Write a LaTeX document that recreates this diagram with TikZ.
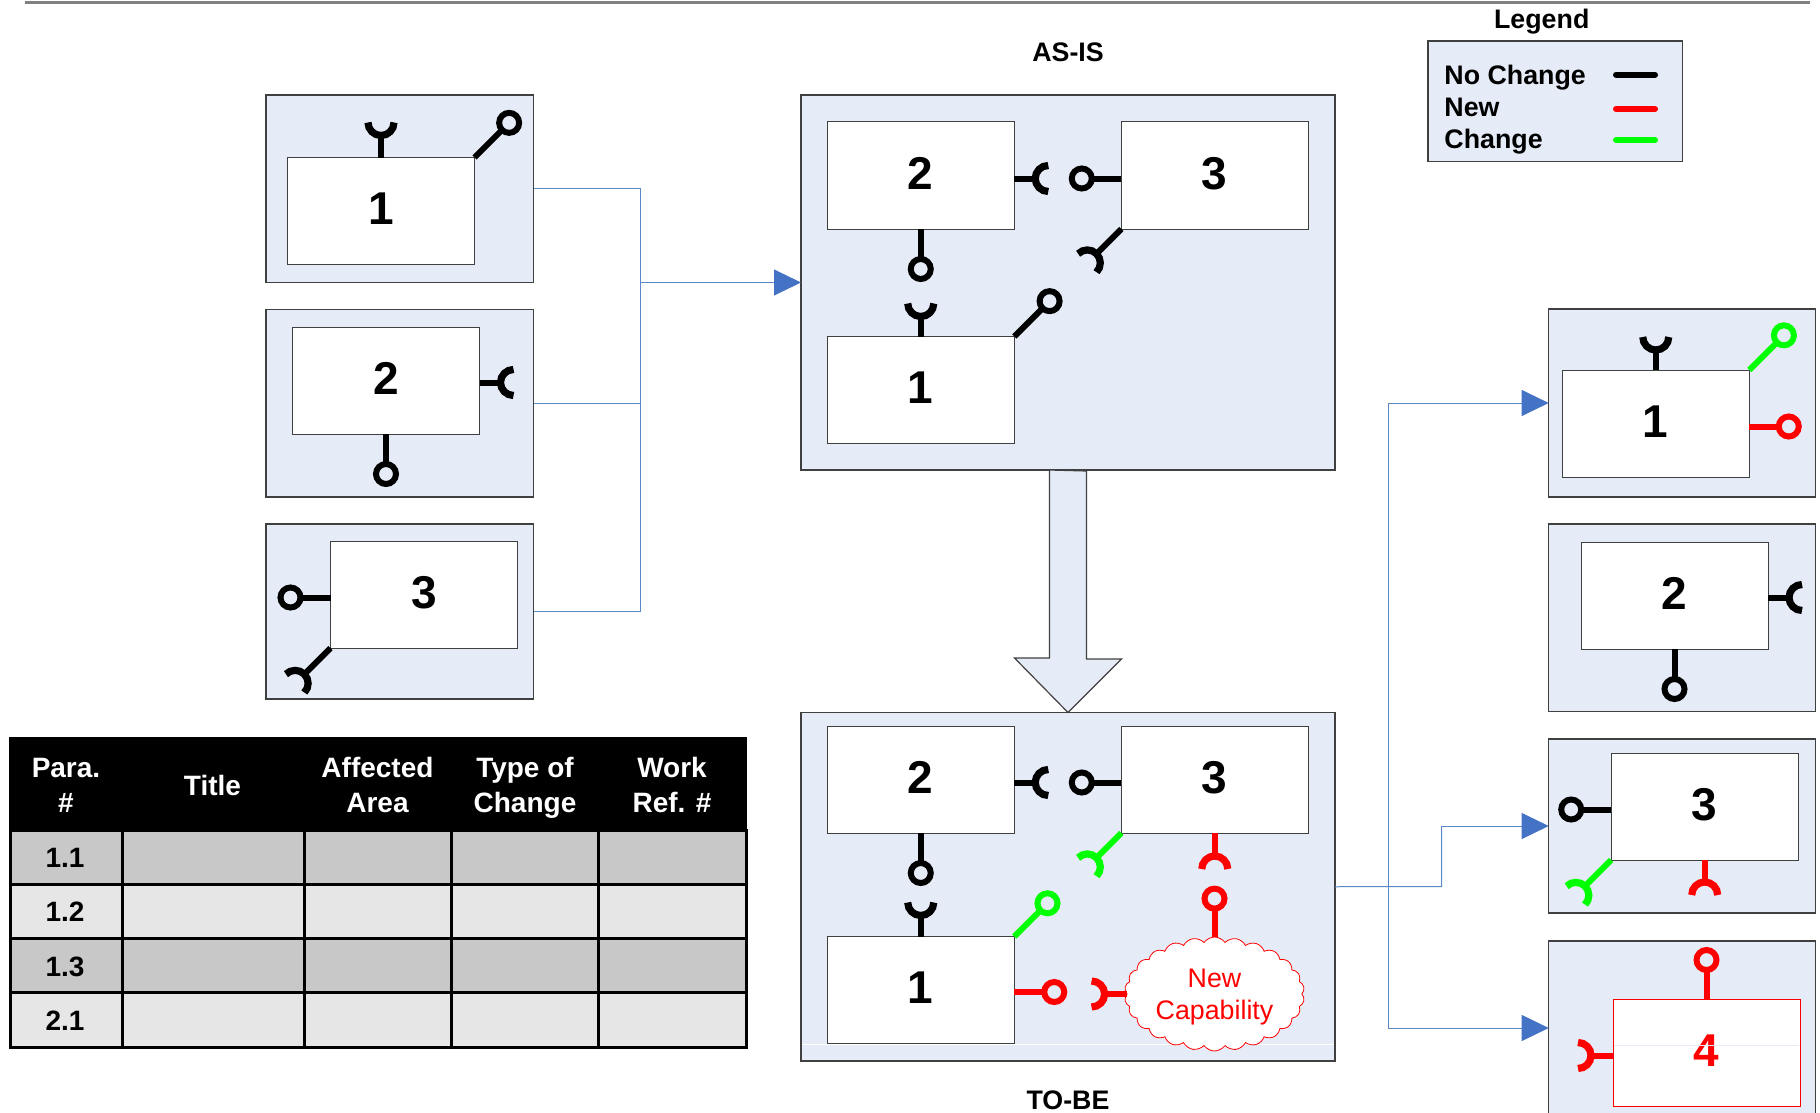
\documentclass[tikz,border=0pt]{standalone}
\usepackage{fontspec}
\setmainfont{Liberation Sans}
\usepackage{tikz}
\usetikzlibrary{calc,fit,arrows.meta,shapes.symbols}
\definecolor{panelblue}{HTML}{E6ECF7}
\definecolor{linkblue}{HTML}{5B87C9}
\definecolor{tipblue}{HTML}{4472C4}
\definecolor{edgegrey}{HTML}{404040}
\definecolor{pingreen}{HTML}{00FF00}
\definecolor{pinred}{HTML}{FF0000}
\definecolor{rowdark}{HTML}{C8C8C8}
\definecolor{rowlight}{HTML}{E6E6E6}
\tikzset{
	panelbox/.style={draw=edgegrey, line width=0.6pt, fill=panelblue, inner sep=0pt, outer sep=0pt},
	blockbox/.style={draw=edgegrey, line width=0.5pt, fill=white, inner sep=0pt, outer sep=0pt, minimum width=93.5pt, minimum height=53.5pt, text height=16.5pt, text depth=3pt, font=\fontsize{23}{26}\selectfont\bfseries},
	pinstem/.style={line width=3pt},
	linkline/.style={draw=linkblue, line width=0.5pt},
	linktip/.style={linkline, -{Triangle[length=13.5pt,width=13pt,fill=tipblue,color=tipblue]}},
	caption/.style={font=\fontsize{13.4}{15.5}\selectfont\bfseries, inner sep=0pt},
	keyline/.style={line width=3pt, line cap=round},
	headtext/.style={font=\fontsize{14}{17.5}\selectfont\bfseries, text=white, align=center, inner sep=0pt},
	rowtext/.style={font=\fontsize{14}{17}\selectfont\bfseries, inner sep=0pt},
	gridline/.style={line width=1.5pt, draw=black}
}
\def\ballpin[#1](#2)(#3:#4){\draw[pinstem,#1] (#2) -- ($(#2)+(#3:#4-10)$); \draw[pinstem,#1] ($(#2)+(#3:#4)$) circle (10);}
\def\cuppin[#1](#2)(#3:#4){\draw[pinstem,#1] (#2) -- ($(#2)+(#3:#4-13)$); \draw[pinstem,line width=3.6pt,#1] ($(#2)+(#3:#4)+(#3+90:13)$) arc (#3+90:#3+270:13);}

\begin{document}
\begin{tikzpicture}[x=0.5pt,y=-0.5pt]
	\useasboundingbox (0,0) rectangle (1820,1113);
	%%%%% TOP RULE %%%%%
	
	\draw[line width=1.5pt, color=black!50] (25, 3) -- (1810, 3);
	
	%%%%% PANELS %%%%%
	
	\node[panelbox, fit={(266,95) (533.5,282.5)}] (leftA) {};
	\node[panelbox, fit={(266,309.5) (533.5,497)}] (leftB) {};
	\node[panelbox, fit={(266,524) (533.5,699)}] (leftC) {};
	\node[panelbox, fit={(801,95) (1335,470)}] (asis) {};
	\node[panelbox, fit={(801,712.5) (1335,1061)}] (tobe) {};
	\node[panelbox, fit={(1548.7,309) (1815.7,497)}] (rightA) {};
	\node[panelbox, fit={(1548.7,524) (1815.7,711.5)}] (rightB) {};
	\node[panelbox, fit={(1548.7,739) (1815.7,913)}] (rightC) {};
	\node[panelbox, fit={(1548.7,941) (1815.7,1115)}] (rightD) {};
	\node[panelbox, fit={(1428,41) (1682.7,161.7)}] (legendbox) {};
	
	\draw[white, line width=0.4pt] (802, 1044) -- (1334, 1044);
	
	%%%%% LEFT BLOCKS %%%%%
	
	\node[blockbox] (leftOne) at (381, 211) {1};
	\cuppin[black](leftOne.north)(-90:35);
	\ballpin[black](leftOne.north east)(-45:49);
	
	\node[blockbox] (leftTwo) at (386, 380.5) {2};
	\cuppin[black]([yshift=-1pt]leftTwo.east)(0:34);
	\ballpin[black](leftTwo.south)(90:40);
	
	\node[blockbox] (leftThree) at (424, 594.5) {3};
	\ballpin[black]([yshift=-1.5pt]leftThree.west)(180:40);
	\cuppin[black](leftThree.south west)(135:50);
	
	%%%%% AS-IS %%%%%
	
	\node[caption] (asisname) at (1068, 52.5) {AS-IS};
	\node[blockbox] (asisTwo) at (920.75, 175.5) {2};
	\node[blockbox] (asisThree) at (1214.75, 175.5) {3};
	\node[blockbox] (asisOne) at (920.75, 390) {1};
	\cuppin[black]([yshift=-1.5pt]asisTwo.east)(0:34);
	\ballpin[black]([yshift=-1.5pt]asisThree.west)(180:39.5);
	\ballpin[black](asisTwo.south)(90:40);
	\cuppin[black](asisOne.north)(-90:33);
	\ballpin[black](asisOne.north east)(-45:50);
	\cuppin[black](asisThree.south west)(135:48);
	
	%%%%% TO-BE %%%%%
	
	\node[caption] (tobename) at (1068, 1100) {TO-BE};
	\node[blockbox] (tobeTwo) at (920.75, 779.5) {2};
	\node[blockbox] (tobeThree) at (1214.75, 779.5) {3};
	\node[blockbox] (tobeOne) at (920.75, 990) {1};
	\node[cloud, cloud puffs=26, cloud puff arc=110, aspect=1.6, draw=pinred, fill=white, line width=0.4pt, minimum width=90pt, minimum height=57pt, inner sep=0pt, text=pinred, align=center, font=\fontsize{13.4}{15.8}\selectfont] (newcloud) at (1214.5, 994) {\rule{0pt}{12pt}New\\[0.3pt]Capability};
	\cuppin[black]([yshift=-1.5pt]tobeTwo.east)(0:34);
	\ballpin[black]([yshift=-1.5pt]tobeThree.west)(180:39.5);
	\ballpin[black](tobeTwo.south)(90:40);
	\cuppin[black](tobeOne.north)(-90:34);
	\ballpin[pingreen](tobeOne.north east)(-45:47);
	\cuppin[pingreen](tobeThree.south west)(135:48);
	\cuppin[pinred](tobeThree.south)(90:36);
	\ballpin[pinred](newcloud.north)(-90:38);
	\ballpin[pinred]([yshift=-1pt]tobeOne.east)(0:40);
	\cuppin[pinred](newcloud.west)(180:35);
	
	%%%%% RIGHT BLOCKS %%%%%
	
	\node[blockbox] (rightOne) at (1655.75, 423.5) {1};
	\cuppin[black](rightOne.north)(-90:33);
	\ballpin[pingreen](rightOne.north east)(-45:49);
	\ballpin[pinred]([yshift=-1.5pt]rightOne.east)(0:39.5);
	
	\node[blockbox] (rightTwo) at (1674.5, 595.5) {2};
	\cuppin[black]([yshift=-1pt]rightTwo.east)(0:34);
	\ballpin[black](rightTwo.south)(90:40);
	
	\node[blockbox] (rightThree) at (1704.7, 806.5) {3};
	\ballpin[black]([yshift=-1.5pt]rightThree.west)(180:40);
	\cuppin[pingreen](rightThree.south west)(135:50);
	\cuppin[pinred](rightThree.south)(90:35);
	
	\node[blockbox, draw=pinred, text=pinred] (rightFour) at (1706.5, 1052.5) {4};
	\draw[panelblue, line width=0.4pt] (1614, 1045) -- (1799, 1045);
	\ballpin[pinred](rightFour.north)(-90:39);
	\cuppin[pinred]([yshift=-1.5pt]rightFour.west)(180:35);
	
	%%%%% LINKS %%%%%
	
	\coordinate (busin) at (640, 282.5);
	\draw[linkline] (leftA.east) -| (busin);
	\draw[linkline] (leftB.east) -| (busin);
	\draw[linkline] (leftC.east) -| (busin);
	\draw[linktip] (busin) -- (asis.west);
	
	\coordinate (busout) at (1388.7, 886.5);
	\coordinate (stepup) at (1441.6, 886.5);
	\coordinate (stepin) at (1441.6, 826);
	\draw[linkline] (tobe.east) -- (stepup) -- (stepin);
	\draw[linktip] (stepin) -- (rightC.west);
	\draw[linktip] (busout) |- (rightA.west);
	\draw[linktip] (busout) |- (rightD.west);
	
	\draw[draw=edgegrey, line width=0.6pt, fill=panelblue] (asis.south) ++(-18.5, 0) -- ++(0, 188) -- ++(-35, 0) -- (tobe.north) -- ++(53.5, -53.5) -- ++(-35, 0) -- ++(0, -188) -- cycle;
	
	%%%%% LEGEND %%%%%
	
	\node[caption] (legendname) at (1541.7, 22) {Legend};
	\node[caption, anchor=west] (keyblack) at (1444, 78) {No Change};
	\node[caption, anchor=west] (keyred) at (1444, 107) {New};
	\node[caption, anchor=west] (keygreen) at (1444, 142) {Change};
	\draw[keyline, black] (1616, 74.7) -- (1655, 74.7);
	\draw[keyline, pinred] (1616, 109) -- (1655, 109);
	\draw[keyline, pingreen] (1616, 140) -- (1655, 140);
	
	%%%%% TABLE %%%%%
	
	\fill[black] (9, 737) rectangle (747, 830);
	\fill[rowdark] (10, 830) rectangle (746, 884);
	\fill[rowlight] (10, 884) rectangle (746, 938);
	\fill[rowdark] (10, 938) rectangle (746, 992);
	\fill[rowlight] (10, 992) rectangle (746, 1047);
	\draw[gridline] (10, 830) rectangle (746, 1047);
	\draw[gridline] (10, 884) -- (746, 884);
	\draw[gridline] (10, 938) -- (746, 938);
	\draw[gridline] (10, 992) -- (746, 992);
	\draw[gridline] (122, 830) -- (122, 1047);
	\draw[gridline] (304, 830) -- (304, 1047);
	\draw[gridline] (451, 830) -- (451, 1047);
	\draw[gridline] (598.5, 830) -- (598.5, 1047);
	
	\node[headtext] (headpara) at (66, 785) {Para.\\\#};
	\node[headtext] (headtitle) at (212.5, 785) {Title};
	\node[headtext] (headarea) at (377.5, 785) {Affected\\Area};
	\node[headtext] (headtype) at (525, 788) {Type of\\Change};
	\node[headtext] (headwork) at (672, 785) {Work\\Ref. \#};
	\node[rowtext] (rowa) at (65, 858) {1.1};
	\node[rowtext] (rowb) at (65, 912) {1.2};
	\node[rowtext] (rowc) at (65, 966.5) {1.3};
	\node[rowtext] (rowd) at (65, 1021) {2.1};
\end{tikzpicture}
\end{document}
